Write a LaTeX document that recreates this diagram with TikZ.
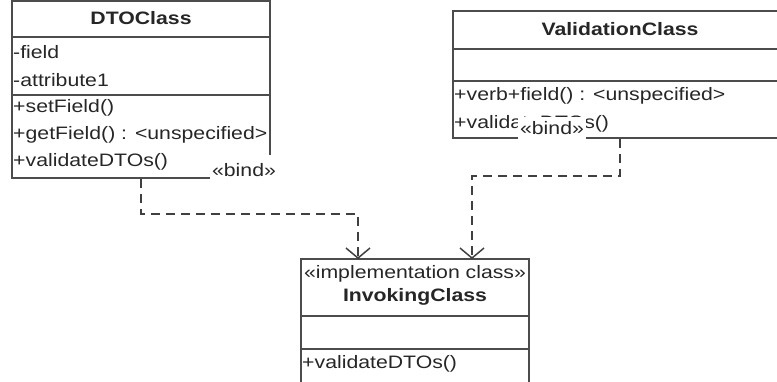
\documentclass[tikz,border=0pt]{standalone}
\usepackage{fontspec}
\setmainfont{Liberation Sans}
\usetikzlibrary{arrows.meta}

\begin{document}
\begin{tikzpicture}[x=1pt,y=-1pt]
		\tikzset{> = {Straight Barb[length=10pt,width=24pt,line width=1.5pt]}}
		\tikzset{classbox/.style = {draw=black!70, line width=1.6pt, inner sep=0pt},
			sep/.style = {draw=black!70, line width=1.6pt},
			member/.style = {anchor=west, inner sep=0pt, text=black!85, font=\fontsize{18}{18}\selectfont, xscale=1.18},
			title/.style = {member, anchor=center, font=\fontsize{18}{18}\selectfont\bfseries},
			bindlabel/.style = {member, anchor=center, fill=white, minimum height=24pt, inner xsep=2pt},
			dep/.style = {->, draw=black!75, line width=1.6pt, dash pattern=on 9pt off 6pt}}
		\useasboundingbox (0,0) rectangle (777,381);
		\clip (0,0) rectangle (777,381);
		\node[classbox, minimum width=258pt, minimum height=177pt] (dto) at (141,89.5){};
		\node[classbox, minimum width=334pt, minimum height=127pt] (val) at (620,74.5){};
		\node[classbox, minimum width=228pt, minimum height=141pt] (inv) at (415,329.5){};
		\draw[sep] (dto.west |- 0,37) -- (dto.east |- 0,37);
		\draw[sep] (dto.west |- 0,95) -- (dto.east |- 0,95);
		\draw[sep] (val.west |- 0,49) -- (val.east |- 0,49);
		\draw[sep] (val.west |- 0,81) -- (val.east |- 0,81);
		\draw[sep] (inv.west |- 0,316) -- (inv.east |- 0,316);
		\draw[sep] (inv.west |- 0,349) -- (inv.east |- 0,349);
		\node[title] (dtoName) at (141,18){DTOClass};
		\node[member] (dtoAttrA) at (13,52){-field};
		\node[member] (dtoAttrB) at (13,80){-attribute1};
		\node[member] (dtoOpA) at (13,108){+setField()};
		\node[member] (dtoOpB) at (13,135){+getField() : <unspecified>};
		\node[member] (dtoOpC) at (13,162){+validateDTOs()};
		\node[title] (valName) at (620,29){ValidationClass};
		\node[member] (valOpA) at (454,96){+verb+field() : <unspecified>};
		\node[member] (valOpB) at (454,124){+validateDTOs()};
		\node[member, anchor=center] (invStereo) at (415,274){«implementation class»};
		\node[title] (invName) at (415,297){InvokingClass};
		\node[member] (invOpA) at (302,364){+validateDTOs()};
		\coordinate (dtoIn) at (358,259);
		\coordinate (valIn) at (472,259);
		\draw[dep] (dto.south) -- ++(0,35) -| (dtoIn);
		\draw[dep] (val.south) -- ++(0,37) -| (valIn);
		\node[bindlabel, minimum height=30pt] (dtoBind) at (244,170){«bind»};
		\node[bindlabel] (valBind) at (552,128.5){«bind»};
	\end{tikzpicture}
\end{document}
